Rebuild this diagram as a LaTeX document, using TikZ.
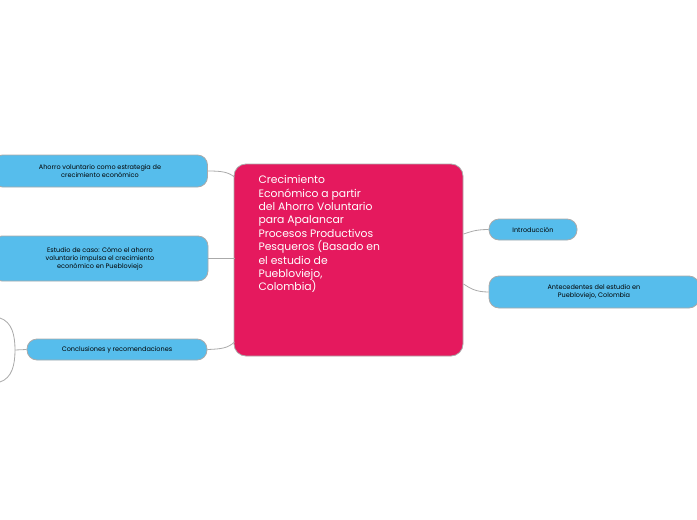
\documentclass[tikz,border=0pt]{standalone}
\usepackage{fontspec}
\setmainfont{Poppins}
\definecolor{pinkc}{HTML}{E5195E}
\definecolor{bluec}{HTML}{56BDEC}
\definecolor{linec}{HTML}{AAAAAA}
\begin{document}
\begin{tikzpicture}[x=1pt,y=-1pt,
  sub/.style={fill=bluec,draw=linec,line width=0.8pt,rounded corners=10pt,font=\fontsize{6.5}{8}\selectfont,align=center,inner sep=2pt},
  conn/.style={draw=linec,line width=0.8pt}]
\useasboundingbox (0,0) rectangle (697,520);
\node[fill=pinkc,draw=linec,line width=0.8pt,rounded corners=12pt,minimum width=229pt,minimum height=192pt] (c) at (348.5,260) {};
\node[text=white,align=left,anchor=north west,font=\fontsize{10.8}{13.4}\selectfont] (ct) at (255,172) {Crecimiento\\Económico a partir\\del Ahorro Voluntario\\para Apalancar\\Procesos Productivos\\Pesqueros (Basado en\\el estudio de\\Puebloviejo,\\Colombia)};
\node[sub,minimum width=215pt,minimum height=32pt] (a) at (100,171) {Ahorro voluntario como estrategia de\\crecimiento económico};
\node[sub,minimum width=216pt,minimum height=45pt] (e) at (100,258.5) {Estudio de caso: Cómo el ahorro\\voluntario impulsa el crecimiento\\económico en Puebloviejo};
\node[sub,minimum width=180pt,minimum height=21pt] (k) at (117,349.5) {Conclusiones y recomendaciones};
\node[sub,minimum width=88pt,minimum height=21pt] (i) at (533,229.5) {Introducción};
\node[sub,minimum width=210pt,minimum height=32pt] (p) at (594,292) {Antecedentes del estudio en\\Puebloviejo, Colombia};
\draw[conn] (a.east) .. controls (222,171) and (228,172) .. (234.5,177);
\draw[conn] (e.east) -- (234.5,258.5);
\draw[conn] (k.east) .. controls (222,349) and (228,348) .. (234.5,342);
\draw[conn] (i.west) .. controls (475,229.5) and (470,232) .. (463.5,234);
\draw[conn] (p.west) .. controls (475,292) and (470,288) .. (463.5,284);
\coordinate (b) at (15,350);
\draw[conn] (k.west) -- (b);
\draw[conn] (0,318) .. controls (12,322) and (15,335) .. (b) .. controls (15,365) and (12,378) .. (0,382);
\end{tikzpicture}
\end{document}
